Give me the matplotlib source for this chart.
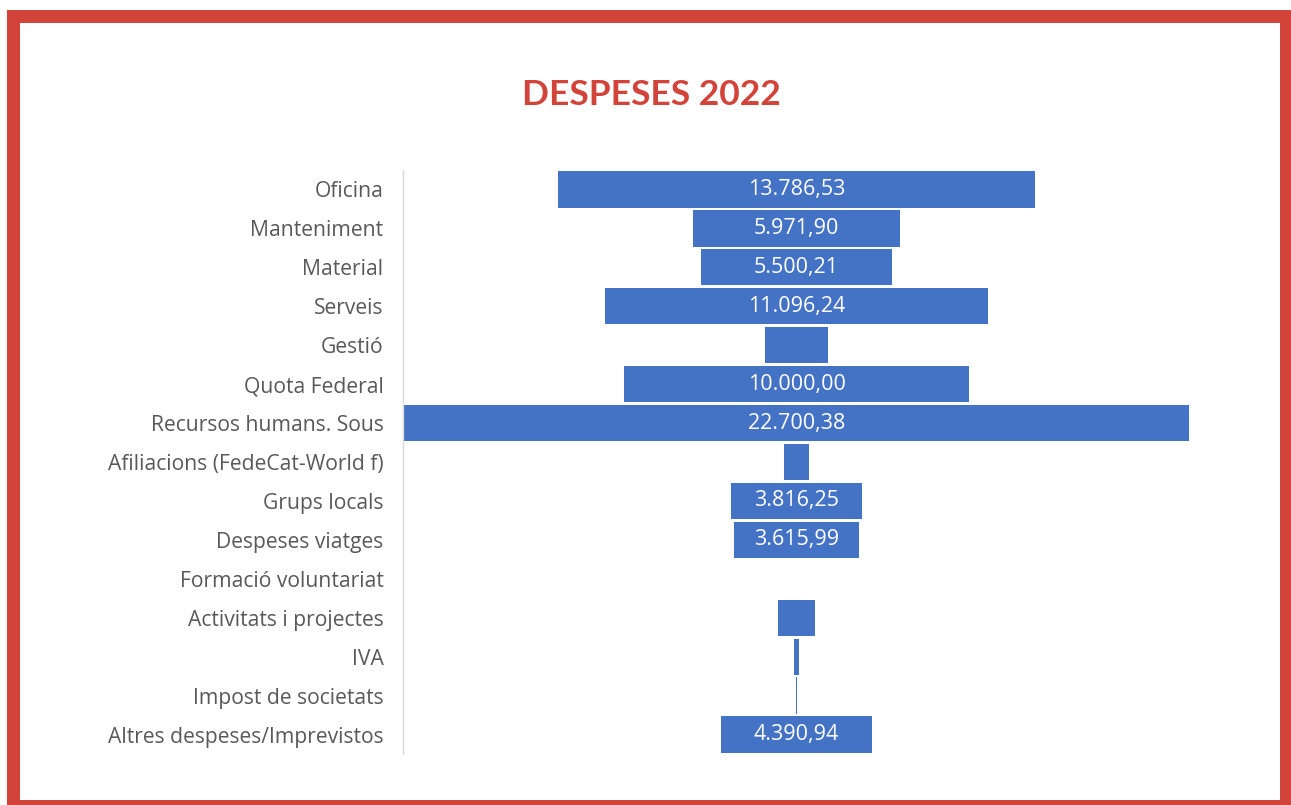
import matplotlib
matplotlib.use("Agg")
import matplotlib.pyplot as plt
from matplotlib.patches import Rectangle

categories = [
    "Oficina", "Manteniment", "Material", "Serveis", "Gestió", "Quota Federal",
    "Recursos humans. Sous", "Afiliacions (FedeCat-World f)", "Grups locals",
    "Despeses viatges", "Formació voluntariat", "Activitats i projectes", "IVA",
    "Impost de societats", "Altres despeses/Imprevistos",
]
values = [
    13786.53, 5971.90, 5500.21, 11096.24, 1850.00, 10000.00,
    22700.38, 750.00, 3816.25, 3615.99, 0.0, 1060.00, 150.00,
    40.00, 4390.94,
]
value_labels = [
    "13.786,53", "5.971,90", "5.500,21", "11.096,24", "", "10.000,00",
    "22.700,38", "", "3.816,25", "3.615,99", "", "", "", "", "4.390,94",
]
title = "DESPESES 2022"

W, H = 1291, 805
fig = plt.figure(figsize=(W / 100, H / 100), dpi=100)
fig.patch.set_facecolor("white")

red = "#D2433A"
# red frame
fig.patches.append(Rectangle((7 / W, 0), (W - 7) / W, 1 - 10 / H,
                             transform=fig.transFigure, facecolor=red,
                             edgecolor="none", zorder=-2))
fig.patches.append(Rectangle((20 / W, 5 / H), (1280 - 20) / W, (800 - 23) / H,
                             transform=fig.transFigure, facecolor="white",
                             edgecolor="none", zorder=-1))

fig.text(651 / W, 1 - 95 / H, title, ha="center", va="center",
         fontsize=25.5, fontweight="bold", color=red, family="Lato", zorder=5)

ax_left, ax_right = 403 / W, 1190 / W
ax_top, ax_bottom = 1 - 170 / H, 1 - 754 / H
ax = fig.add_axes([ax_left, ax_bottom, ax_right - ax_left, ax_top - ax_bottom])
ax.set_zorder(2)
ax.set_facecolor("none")

y = list(range(len(categories)))
lefts = [-v / 2 for v in values]
ax.barh(y, values, left=lefts, height=0.93, color="#4472C4", linewidth=0)

for yi, lab in zip(y, value_labels):
    if lab:
        ax.text(0, yi, lab, ha="center", va="center", color="white",
                fontsize=15.5, family="Open Sans")

half = max(values) / 2 * 787 / 785
ax.set_xlim(-half, half)
ax.set_ylim(len(categories) - 0.5, -0.5)
ax.set_yticks(y)
ax.set_yticklabels(categories, family="Open Sans", fontsize=15.2, color="#595959")
ax.tick_params(axis="y", length=0, pad=14)
ax.set_xticks([])
for s in ["top", "right", "bottom"]:
    ax.spines[s].set_visible(False)
ax.spines["left"].set_color("#D9D9D9")
ax.spines["left"].set_linewidth(1)

fig.savefig("out.png", dpi=100)
